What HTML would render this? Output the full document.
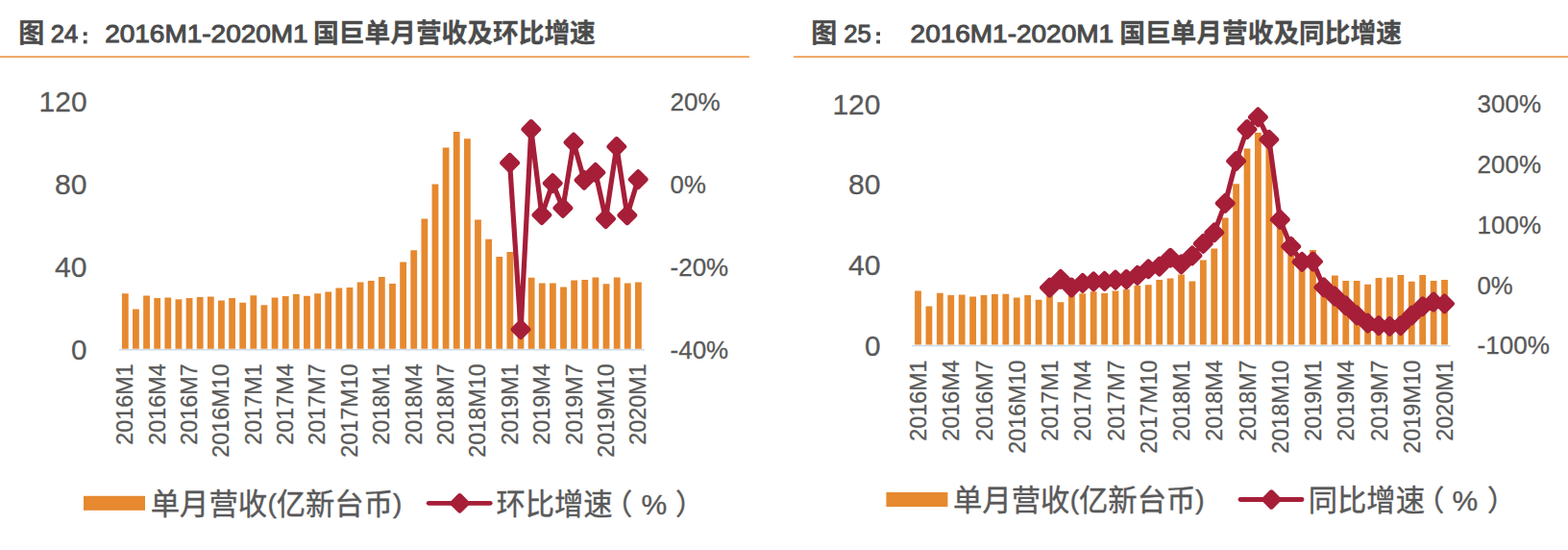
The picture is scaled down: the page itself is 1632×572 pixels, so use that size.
<!DOCTYPE html>
<html lang="zh-CN">
<head>
<meta charset="utf-8">
<title>图 24 / 图 25：2016M1-2020M1 国巨单月营收及环比、同比增速</title>
<style>
html,body{margin:0;padding:0;background:#fff;}
body{width:1632px;height:572px;overflow:hidden;font-family:"Liberation Sans","Noto Sans CJK SC",sans-serif;}
svg{display:block;}
svg text{font-family:"Liberation Sans","Noto Sans CJK SC",sans-serif;}
</style>
</head>
<body>
<svg width="1632" height="572" viewBox="0 0 1632 572">
<rect width="1632" height="572" fill="#fff"/>
<g id="fig24">
<rect x="0" y="58.2" width="780" height="1.8" fill="#f0a05a"/>
<text x="19.31" y="43.60" font-size="27" font-weight="bold" fill="#4b4b4b" stroke="#4b4b4b" stroke-width="0.3">图</text>
<text x="52.70" y="44.00" font-size="25.7" fill="#4b4b4b" textLength="28.50" lengthAdjust="spacingAndGlyphs" stroke="#4b4b4b" stroke-width="1.0">24</text>
<rect x="86.8" y="33.3" width="3.8" height="3.8" fill="#4b4b4b"/><rect x="86.8" y="41.6" width="3.8" height="3.8" fill="#4b4b4b"/>
<text x="109.20" y="44.00" font-size="25.7" fill="#4b4b4b" textLength="211.50" lengthAdjust="spacingAndGlyphs" stroke="#4b4b4b" stroke-width="1.0">2016M1-2020M1</text>
<text x="326.10" y="43.60" font-size="27" font-weight="bold" fill="#4b4b4b" stroke="#4b4b4b" stroke-width="0.3" textLength="293.70" lengthAdjust="spacingAndGlyphs">国巨单月营收及环比增速</text>
<rect x="123.9" y="363.0" width="546.9" height="1.4" fill="#cbd9e8"/>
<path d="M126.90 362.7v-57.5h6.8v57.5zM138.03 362.7v-41.2h6.8v41.2zM149.15 362.7v-55.2h6.8v55.2zM160.28 362.7v-52.7h6.8v52.7zM171.41 362.7v-53.3h6.8v53.3zM182.54 362.7v-51.4h6.8v51.4zM193.66 362.7v-52.7h6.8v52.7zM204.79 362.7v-53.7h6.8v53.7zM215.92 362.7v-54.2h6.8v54.2zM227.04 362.7v-50.2h6.8v50.2zM238.17 362.7v-52.7h6.8v52.7zM249.30 362.7v-47.9h6.8v47.9zM260.42 362.7v-55.4h6.8v55.4zM271.55 362.7v-45.4h6.8v45.4zM282.68 362.7v-53.3h6.8v53.3zM293.81 362.7v-54.7h6.8v54.7zM304.93 362.7v-56.6h6.8v56.6zM316.06 362.7v-55.0h6.8v55.0zM327.19 362.7v-57.5h6.8v57.5zM338.31 362.7v-59.1h6.8v59.1zM349.44 362.7v-63.2h6.8v63.2zM360.57 362.7v-63.8h6.8v63.8zM371.69 362.7v-69.2h6.8v69.2zM382.82 362.7v-70.8h6.8v70.8zM393.95 362.7v-74.7h6.8v74.7zM405.08 362.7v-67.7h6.8v67.7zM416.20 362.7v-90.1h6.8v90.1zM427.33 362.7v-102.5h6.8v102.5zM438.46 362.7v-135.1h6.8v135.1zM449.58 362.7v-171.3h6.8v171.3zM460.71 362.7v-209.1h6.8v209.1zM471.84 362.7v-225.7h6.8v225.7zM482.96 362.7v-218.5h6.8v218.5zM494.09 362.7v-134.1h6.8v134.1zM505.22 362.7v-114.0h6.8v114.0zM516.35 362.7v-95.6h6.8v95.6zM527.47 362.7v-100.8h6.8v100.8zM538.60 362.7v-65.4h6.8v65.4zM549.73 362.7v-73.9h6.8v73.9zM560.85 362.7v-68.3h6.8v68.3zM571.98 362.7v-68.3h6.8v68.3zM583.11 362.7v-64.3h6.8v64.3zM594.23 362.7v-71.3h6.8v71.3zM605.36 362.7v-71.8h6.8v71.8zM616.49 362.7v-74.3h6.8v74.3zM627.62 362.7v-67.5h6.8v67.5zM638.74 362.7v-74.3h6.8v74.3zM649.87 362.7v-68.3h6.8v68.3zM661.00 362.7v-69.2h6.8v69.2z" fill="#e6892f"/>
<polyline points="530.6,169.4 542.0,342.6 552.8,134.5 563.9,223.6 575.2,190.6 585.9,216.4 597.0,148.1 608.0,187.3 619.8,179.4 630.5,227.6 641.8,152.5 652.8,223.8 664.2,186.6" fill="none" stroke="#a61e38" stroke-width="5.2" stroke-linejoin="round" stroke-linecap="round"/>
<path d="M530.6 161.6L538.4 169.4L530.6 177.2L522.8 169.4ZM542.0 334.8L549.8 342.6L542.0 350.4L534.2 342.6ZM552.8 126.7L560.6 134.5L552.8 142.3L545.0 134.5ZM563.9 215.8L571.7 223.6L563.9 231.4L556.1 223.6ZM575.2 182.8L583.0 190.6L575.2 198.4L567.4 190.6ZM585.9 208.6L593.7 216.4L585.9 224.2L578.1 216.4ZM597.0 140.3L604.8 148.1L597.0 155.9L589.2 148.1ZM608.0 179.5L615.8 187.3L608.0 195.1L600.2 187.3ZM619.8 171.6L627.6 179.4L619.8 187.2L612.0 179.4ZM630.5 219.8L638.3 227.6L630.5 235.4L622.7 227.6ZM641.8 144.7L649.6 152.5L641.8 160.3L634.0 152.5ZM652.8 216.0L660.6 223.8L652.8 231.6L645.0 223.8ZM664.2 178.8L672.0 186.6L664.2 194.4L656.4 186.6Z" fill="#a61e38" stroke="#a61e38" stroke-width="5.2" stroke-linejoin="round"/>
<text x="90.60" y="115.90" font-size="29" fill="#595959" text-anchor="end" textLength="50.00" lengthAdjust="spacingAndGlyphs" stroke="#595959" stroke-width="0.3">120</text>
<text x="90.60" y="201.90" font-size="29" fill="#595959" text-anchor="end" textLength="33.50" lengthAdjust="spacingAndGlyphs" stroke="#595959" stroke-width="0.3">80</text>
<text x="90.60" y="287.90" font-size="29" fill="#595959" text-anchor="end" textLength="33.50" lengthAdjust="spacingAndGlyphs" stroke="#595959" stroke-width="0.3">40</text>
<text x="90.60" y="373.90" font-size="29" fill="#595959" text-anchor="end" textLength="16.50" lengthAdjust="spacingAndGlyphs" stroke="#595959" stroke-width="0.3">0</text>
<text x="697.60" y="114.80" font-size="26.5" fill="#595959" textLength="52.00" lengthAdjust="spacingAndGlyphs" stroke="#595959" stroke-width="0.3">20%</text>
<text x="697.60" y="200.90" font-size="26.5" fill="#595959" textLength="37.20" lengthAdjust="spacingAndGlyphs" stroke="#595959" stroke-width="0.3">0%</text>
<text x="697.60" y="287.10" font-size="26.5" fill="#595959" textLength="60.60" lengthAdjust="spacingAndGlyphs" stroke="#595959" stroke-width="0.3">-20%</text>
<text x="697.60" y="373.10" font-size="26.5" fill="#595959" textLength="60.60" lengthAdjust="spacingAndGlyphs" stroke="#595959" stroke-width="0.3">-40%</text>
<text transform="translate(138.20 378.3) scale(1.02 1) rotate(-90)" text-anchor="end" font-size="23.35" fill="#595959" stroke="#595959" stroke-width="0.3">2016M1</text>
<text transform="translate(171.58 378.3) scale(1.02 1) rotate(-90)" text-anchor="end" font-size="23.35" fill="#595959" stroke="#595959" stroke-width="0.3">2016M4</text>
<text transform="translate(204.96 378.3) scale(1.02 1) rotate(-90)" text-anchor="end" font-size="23.35" fill="#595959" stroke="#595959" stroke-width="0.3">2016M7</text>
<text transform="translate(238.34 378.3) scale(1.02 1) rotate(-90)" text-anchor="end" font-size="23.35" fill="#595959" stroke="#595959" stroke-width="0.3">2016M10</text>
<text transform="translate(271.72 378.3) scale(1.02 1) rotate(-90)" text-anchor="end" font-size="23.35" fill="#595959" stroke="#595959" stroke-width="0.3">2017M1</text>
<text transform="translate(305.11 378.3) scale(1.02 1) rotate(-90)" text-anchor="end" font-size="23.35" fill="#595959" stroke="#595959" stroke-width="0.3">2017M4</text>
<text transform="translate(338.49 378.3) scale(1.02 1) rotate(-90)" text-anchor="end" font-size="23.35" fill="#595959" stroke="#595959" stroke-width="0.3">2017M7</text>
<text transform="translate(371.87 378.3) scale(1.02 1) rotate(-90)" text-anchor="end" font-size="23.35" fill="#595959" stroke="#595959" stroke-width="0.3">2017M10</text>
<text transform="translate(405.25 378.3) scale(1.02 1) rotate(-90)" text-anchor="end" font-size="23.35" fill="#595959" stroke="#595959" stroke-width="0.3">2018M1</text>
<text transform="translate(438.63 378.3) scale(1.02 1) rotate(-90)" text-anchor="end" font-size="23.35" fill="#595959" stroke="#595959" stroke-width="0.3">2018M4</text>
<text transform="translate(472.01 378.3) scale(1.02 1) rotate(-90)" text-anchor="end" font-size="23.35" fill="#595959" stroke="#595959" stroke-width="0.3">2018M7</text>
<text transform="translate(505.39 378.3) scale(1.02 1) rotate(-90)" text-anchor="end" font-size="23.35" fill="#595959" stroke="#595959" stroke-width="0.3">2018M10</text>
<text transform="translate(538.77 378.3) scale(1.02 1) rotate(-90)" text-anchor="end" font-size="23.35" fill="#595959" stroke="#595959" stroke-width="0.3">2019M1</text>
<text transform="translate(572.15 378.3) scale(1.02 1) rotate(-90)" text-anchor="end" font-size="23.35" fill="#595959" stroke="#595959" stroke-width="0.3">2019M4</text>
<text transform="translate(605.53 378.3) scale(1.02 1) rotate(-90)" text-anchor="end" font-size="23.35" fill="#595959" stroke="#595959" stroke-width="0.3">2019M7</text>
<text transform="translate(638.92 378.3) scale(1.02 1) rotate(-90)" text-anchor="end" font-size="23.35" fill="#595959" stroke="#595959" stroke-width="0.3">2019M10</text>
<text transform="translate(672.30 378.3) scale(1.02 1) rotate(-90)" text-anchor="end" font-size="23.35" fill="#595959" stroke="#595959" stroke-width="0.3">2020M1</text>
<rect x="87.0" y="515.8" width="64" height="15" fill="#e6892f"/>
<text x="156.80" y="534.50" font-size="31" fill="#595959" stroke="#595959" stroke-width="0.4" textLength="121.30" lengthAdjust="spacingAndGlyphs">单月营收</text>
<text x="278.40" y="533.00" font-size="28" fill="#595959" stroke="#595959" stroke-width="0.4">(</text>
<text x="287.70" y="534.50" font-size="31" fill="#595959" stroke="#595959" stroke-width="0.4" textLength="121.30" lengthAdjust="spacingAndGlyphs">亿新台币</text>
<text x="408.90" y="533.00" font-size="28" fill="#595959" stroke="#595959" stroke-width="0.4">)</text>
<path d="M446.2 523.3h64" stroke="#a61e38" stroke-width="4.8" stroke-linecap="round" fill="none"/>
<path d="M478.5 515.7L486.1 523.3L478.5 530.9L470.9 523.3Z" fill="#a61e38" stroke="#a61e38" stroke-width="5.2" stroke-linejoin="round"/>
<text x="516.40" y="534.50" font-size="31" fill="#595959" stroke="#595959" stroke-width="0.4" textLength="121.30" lengthAdjust="spacingAndGlyphs">环比增速</text>
<text x="628.35" y="534.50" font-size="30" fill="#595959" stroke="#595959" stroke-width="0.4">（</text>
<text x="667.50" y="534.50" font-size="30" fill="#595959" stroke="#595959" stroke-width="0.4">%</text>
<text x="703.02" y="534.50" font-size="30" fill="#595959" stroke="#595959" stroke-width="0.4">）</text>
</g>
<g id="fig25">
<rect x="826" y="58.2" width="806" height="1.8" fill="#f0a05a"/>
<text x="844.31" y="43.60" font-size="27" font-weight="bold" fill="#4b4b4b" stroke="#4b4b4b" stroke-width="0.3">图</text>
<text x="878.30" y="44.00" font-size="25.7" fill="#4b4b4b" textLength="28.50" lengthAdjust="spacingAndGlyphs" stroke="#4b4b4b" stroke-width="1.0">25</text>
<rect x="912.2" y="33.3" width="3.8" height="3.8" fill="#4b4b4b"/><rect x="912.2" y="41.6" width="3.8" height="3.8" fill="#4b4b4b"/>
<text x="947.60" y="44.00" font-size="25.7" fill="#4b4b4b" textLength="211.50" lengthAdjust="spacingAndGlyphs" stroke="#4b4b4b" stroke-width="1.0">2016M1-2020M1</text>
<text x="1165.20" y="43.60" font-size="27" font-weight="bold" fill="#4b4b4b" stroke="#4b4b4b" stroke-width="0.3" textLength="293.70" lengthAdjust="spacingAndGlyphs">国巨单月营收及同比增速</text>
<rect x="949.1" y="358.9" width="560.8" height="1.4" fill="#cbd9e8"/>
<path d="M952.10 358.6v-56.2h6.8v56.2zM963.52 358.6v-40.2h6.8v40.2zM974.93 358.6v-53.9h6.8v53.9zM986.35 358.6v-51.5h6.8v51.5zM997.77 358.6v-52.1h6.8v52.1zM1009.19 358.6v-50.2h6.8v50.2zM1020.60 358.6v-51.5h6.8v51.5zM1032.02 358.6v-52.5h6.8v52.5zM1043.44 358.6v-52.9h6.8v52.9zM1054.85 358.6v-49.0h6.8v49.0zM1066.27 358.6v-51.5h6.8v51.5zM1077.69 358.6v-46.8h6.8v46.8zM1089.10 358.6v-54.1h6.8v54.1zM1100.52 358.6v-44.3h6.8v44.3zM1111.94 358.6v-52.1h6.8v52.1zM1123.36 358.6v-53.4h6.8v53.4zM1134.77 358.6v-55.3h6.8v55.3zM1146.19 358.6v-53.7h6.8v53.7zM1157.61 358.6v-56.2h6.8v56.2zM1169.02 358.6v-57.7h6.8v57.7zM1180.44 358.6v-61.7h6.8v61.7zM1191.86 358.6v-62.3h6.8v62.3zM1203.27 358.6v-67.6h6.8v67.6zM1214.69 358.6v-69.2h6.8v69.2zM1226.11 358.6v-73.0h6.8v73.0zM1237.53 358.6v-66.1h6.8v66.1zM1248.94 358.6v-88.0h6.8v88.0zM1260.36 358.6v-100.1h6.8v100.1zM1271.78 358.6v-132.0h6.8v132.0zM1283.19 358.6v-167.3h6.8v167.3zM1294.61 358.6v-204.2h6.8v204.2zM1306.03 358.6v-220.5h6.8v220.5zM1317.44 358.6v-213.4h6.8v213.4zM1328.86 358.6v-131.0h6.8v131.0zM1340.28 358.6v-111.3h6.8v111.3zM1351.69 358.6v-93.4h6.8v93.4zM1363.11 358.6v-98.5h6.8v98.5zM1374.53 358.6v-63.9h6.8v63.9zM1385.95 358.6v-72.2h6.8v72.2zM1397.36 358.6v-66.7h6.8v66.7zM1408.78 358.6v-66.7h6.8v66.7zM1420.20 358.6v-62.8h6.8v62.8zM1431.61 358.6v-69.6h6.8v69.6zM1443.03 358.6v-70.1h6.8v70.1zM1454.45 358.6v-72.6h6.8v72.6zM1465.87 358.6v-65.9h6.8v65.9zM1477.28 358.6v-72.6h6.8v72.6zM1488.70 358.6v-66.7h6.8v66.7zM1500.12 358.6v-67.6h6.8v67.6z" fill="#e6892f"/>
<polyline points="1092.5,299.1 1103.9,290.4 1115.3,299.0 1126.8,294.4 1138.2,292.9 1149.6,292.4 1161.0,291.1 1172.4,290.5 1183.8,286.4 1195.3,279.8 1206.7,277.1 1218.1,268.2 1229.5,274.9 1240.9,265.9 1252.3,253.4 1263.8,241.8 1275.2,211.4 1286.6,167.5 1298.0,134.5 1309.4,121.9 1320.8,145.2 1332.3,228.4 1343.7,256.4 1355.1,272.4 1366.5,272.0 1377.9,298.9 1389.3,308.1 1400.8,317.8 1412.2,327.9 1423.6,336.1 1435.0,338.6 1446.4,339.4 1457.8,338.6 1469.3,328.0 1480.7,318.7 1492.1,314.0 1503.5,315.8" fill="none" stroke="#a61e38" stroke-width="5.2" stroke-linejoin="round" stroke-linecap="round"/>
<path d="M1092.5 291.3L1100.3 299.1L1092.5 306.9L1084.7 299.1ZM1103.9 282.6L1111.7 290.4L1103.9 298.2L1096.1 290.4ZM1115.3 291.2L1123.1 299.0L1115.3 306.8L1107.5 299.0ZM1126.8 286.6L1134.6 294.4L1126.8 302.2L1119.0 294.4ZM1138.2 285.1L1146.0 292.9L1138.2 300.7L1130.4 292.9ZM1149.6 284.6L1157.4 292.4L1149.6 300.2L1141.8 292.4ZM1161.0 283.3L1168.8 291.1L1161.0 298.9L1153.2 291.1ZM1172.4 282.7L1180.2 290.5L1172.4 298.3L1164.6 290.5ZM1183.8 278.6L1191.6 286.4L1183.8 294.2L1176.0 286.4ZM1195.3 272.0L1203.1 279.8L1195.3 287.6L1187.5 279.8ZM1206.7 269.3L1214.5 277.1L1206.7 284.9L1198.9 277.1ZM1218.1 260.4L1225.9 268.2L1218.1 276.0L1210.3 268.2ZM1229.5 267.1L1237.3 274.9L1229.5 282.7L1221.7 274.9ZM1240.9 258.1L1248.7 265.9L1240.9 273.7L1233.1 265.9ZM1252.3 245.6L1260.1 253.4L1252.3 261.2L1244.5 253.4ZM1263.8 234.0L1271.6 241.8L1263.8 249.6L1256.0 241.8ZM1275.2 203.6L1283.0 211.4L1275.2 219.2L1267.4 211.4ZM1286.6 159.7L1294.4 167.5L1286.6 175.3L1278.8 167.5ZM1298.0 126.7L1305.8 134.5L1298.0 142.3L1290.2 134.5ZM1309.4 114.1L1317.2 121.9L1309.4 129.7L1301.6 121.9ZM1320.8 137.4L1328.6 145.2L1320.8 153.0L1313.0 145.2ZM1332.3 220.6L1340.1 228.4L1332.3 236.2L1324.5 228.4ZM1343.7 248.6L1351.5 256.4L1343.7 264.2L1335.9 256.4ZM1355.1 264.6L1362.9 272.4L1355.1 280.2L1347.3 272.4ZM1366.5 264.2L1374.3 272.0L1366.5 279.8L1358.7 272.0ZM1377.9 291.1L1385.7 298.9L1377.9 306.7L1370.1 298.9ZM1389.3 300.3L1397.1 308.1L1389.3 315.9L1381.5 308.1ZM1400.8 310.0L1408.6 317.8L1400.8 325.6L1393.0 317.8ZM1412.2 320.1L1420.0 327.9L1412.2 335.7L1404.4 327.9ZM1423.6 328.3L1431.4 336.1L1423.6 343.9L1415.8 336.1ZM1435.0 330.8L1442.8 338.6L1435.0 346.4L1427.2 338.6ZM1446.4 331.6L1454.2 339.4L1446.4 347.2L1438.6 339.4ZM1457.8 330.8L1465.6 338.6L1457.8 346.4L1450.0 338.6ZM1469.3 320.2L1477.1 328.0L1469.3 335.8L1461.5 328.0ZM1480.7 310.9L1488.5 318.7L1480.7 326.5L1472.9 318.7ZM1492.1 306.2L1499.9 314.0L1492.1 321.8L1484.3 314.0ZM1503.5 308.0L1511.3 315.8L1503.5 323.6L1495.7 315.8Z" fill="#a61e38" stroke="#a61e38" stroke-width="5.2" stroke-linejoin="round"/>
<text x="916.40" y="118.60" font-size="29" fill="#595959" text-anchor="end" textLength="50.00" lengthAdjust="spacingAndGlyphs" stroke="#595959" stroke-width="0.3">120</text>
<text x="916.40" y="202.30" font-size="29" fill="#595959" text-anchor="end" textLength="33.50" lengthAdjust="spacingAndGlyphs" stroke="#595959" stroke-width="0.3">80</text>
<text x="916.40" y="286.00" font-size="29" fill="#595959" text-anchor="end" textLength="33.50" lengthAdjust="spacingAndGlyphs" stroke="#595959" stroke-width="0.3">40</text>
<text x="916.40" y="369.70" font-size="29" fill="#595959" text-anchor="end" textLength="16.50" lengthAdjust="spacingAndGlyphs" stroke="#595959" stroke-width="0.3">0</text>
<text x="1537.50" y="117.40" font-size="26.5" fill="#595959" textLength="66.50" lengthAdjust="spacingAndGlyphs" stroke="#595959" stroke-width="0.3">300%</text>
<text x="1537.50" y="179.60" font-size="26.5" fill="#595959" textLength="66.50" lengthAdjust="spacingAndGlyphs" stroke="#595959" stroke-width="0.3">200%</text>
<text x="1537.50" y="243.10" font-size="26.5" fill="#595959" textLength="66.50" lengthAdjust="spacingAndGlyphs" stroke="#595959" stroke-width="0.3">100%</text>
<text x="1537.50" y="306.20" font-size="26.5" fill="#595959" textLength="37.20" lengthAdjust="spacingAndGlyphs" stroke="#595959" stroke-width="0.3">0%</text>
<text x="1537.50" y="368.10" font-size="26.5" fill="#595959" textLength="75.40" lengthAdjust="spacingAndGlyphs" stroke="#595959" stroke-width="0.3">-100%</text>
<text transform="translate(964.20 374.4) scale(1.02 1) rotate(-90)" text-anchor="end" font-size="23.35" fill="#595959" stroke="#595959" stroke-width="0.3">2016M1</text>
<text transform="translate(998.45 374.4) scale(1.02 1) rotate(-90)" text-anchor="end" font-size="23.35" fill="#595959" stroke="#595959" stroke-width="0.3">2016M4</text>
<text transform="translate(1032.70 374.4) scale(1.02 1) rotate(-90)" text-anchor="end" font-size="23.35" fill="#595959" stroke="#595959" stroke-width="0.3">2016M7</text>
<text transform="translate(1066.95 374.4) scale(1.02 1) rotate(-90)" text-anchor="end" font-size="23.35" fill="#595959" stroke="#595959" stroke-width="0.3">2016M10</text>
<text transform="translate(1101.20 374.4) scale(1.02 1) rotate(-90)" text-anchor="end" font-size="23.35" fill="#595959" stroke="#595959" stroke-width="0.3">2017M1</text>
<text transform="translate(1135.46 374.4) scale(1.02 1) rotate(-90)" text-anchor="end" font-size="23.35" fill="#595959" stroke="#595959" stroke-width="0.3">2017M4</text>
<text transform="translate(1169.71 374.4) scale(1.02 1) rotate(-90)" text-anchor="end" font-size="23.35" fill="#595959" stroke="#595959" stroke-width="0.3">2017M7</text>
<text transform="translate(1203.96 374.4) scale(1.02 1) rotate(-90)" text-anchor="end" font-size="23.35" fill="#595959" stroke="#595959" stroke-width="0.3">2017M10</text>
<text transform="translate(1238.21 374.4) scale(1.02 1) rotate(-90)" text-anchor="end" font-size="23.35" fill="#595959" stroke="#595959" stroke-width="0.3">2018M1</text>
<text transform="translate(1272.46 374.4) scale(1.02 1) rotate(-90)" text-anchor="end" font-size="23.35" fill="#595959" stroke="#595959" stroke-width="0.3">2018M4</text>
<text transform="translate(1306.71 374.4) scale(1.02 1) rotate(-90)" text-anchor="end" font-size="23.35" fill="#595959" stroke="#595959" stroke-width="0.3">2018M7</text>
<text transform="translate(1340.96 374.4) scale(1.02 1) rotate(-90)" text-anchor="end" font-size="23.35" fill="#595959" stroke="#595959" stroke-width="0.3">2018M10</text>
<text transform="translate(1375.21 374.4) scale(1.02 1) rotate(-90)" text-anchor="end" font-size="23.35" fill="#595959" stroke="#595959" stroke-width="0.3">2019M1</text>
<text transform="translate(1409.46 374.4) scale(1.02 1) rotate(-90)" text-anchor="end" font-size="23.35" fill="#595959" stroke="#595959" stroke-width="0.3">2019M4</text>
<text transform="translate(1443.71 374.4) scale(1.02 1) rotate(-90)" text-anchor="end" font-size="23.35" fill="#595959" stroke="#595959" stroke-width="0.3">2019M7</text>
<text transform="translate(1477.96 374.4) scale(1.02 1) rotate(-90)" text-anchor="end" font-size="23.35" fill="#595959" stroke="#595959" stroke-width="0.3">2019M10</text>
<text transform="translate(1512.22 374.4) scale(1.02 1) rotate(-90)" text-anchor="end" font-size="23.35" fill="#595959" stroke="#595959" stroke-width="0.3">2020M1</text>
<rect x="922.4" y="512.0" width="64" height="15" fill="#e6892f"/>
<text x="992.10" y="530.70" font-size="31" fill="#595959" stroke="#595959" stroke-width="0.4" textLength="121.30" lengthAdjust="spacingAndGlyphs">单月营收</text>
<text x="1113.70" y="529.20" font-size="28" fill="#595959" stroke="#595959" stroke-width="0.4">(</text>
<text x="1123.00" y="530.70" font-size="31" fill="#595959" stroke="#595959" stroke-width="0.4" textLength="121.30" lengthAdjust="spacingAndGlyphs">亿新台币</text>
<text x="1244.20" y="529.20" font-size="28" fill="#595959" stroke="#595959" stroke-width="0.4">)</text>
<path d="M1291.0 519.5h64" stroke="#a61e38" stroke-width="4.8" stroke-linecap="round" fill="none"/>
<path d="M1323.3 511.9L1330.9 519.5L1323.3 527.1L1315.7 519.5Z" fill="#a61e38" stroke="#a61e38" stroke-width="5.2" stroke-linejoin="round"/>
<text x="1361.70" y="530.70" font-size="31" fill="#595959" stroke="#595959" stroke-width="0.4" textLength="121.30" lengthAdjust="spacingAndGlyphs">同比增速</text>
<text x="1473.15" y="530.70" font-size="30" fill="#595959" stroke="#595959" stroke-width="0.4">（</text>
<text x="1511.60" y="530.70" font-size="30" fill="#595959" stroke="#595959" stroke-width="0.4">%</text>
<text x="1547.92" y="530.70" font-size="30" fill="#595959" stroke="#595959" stroke-width="0.4">）</text>
</g>
</svg>
</body>
</html>
